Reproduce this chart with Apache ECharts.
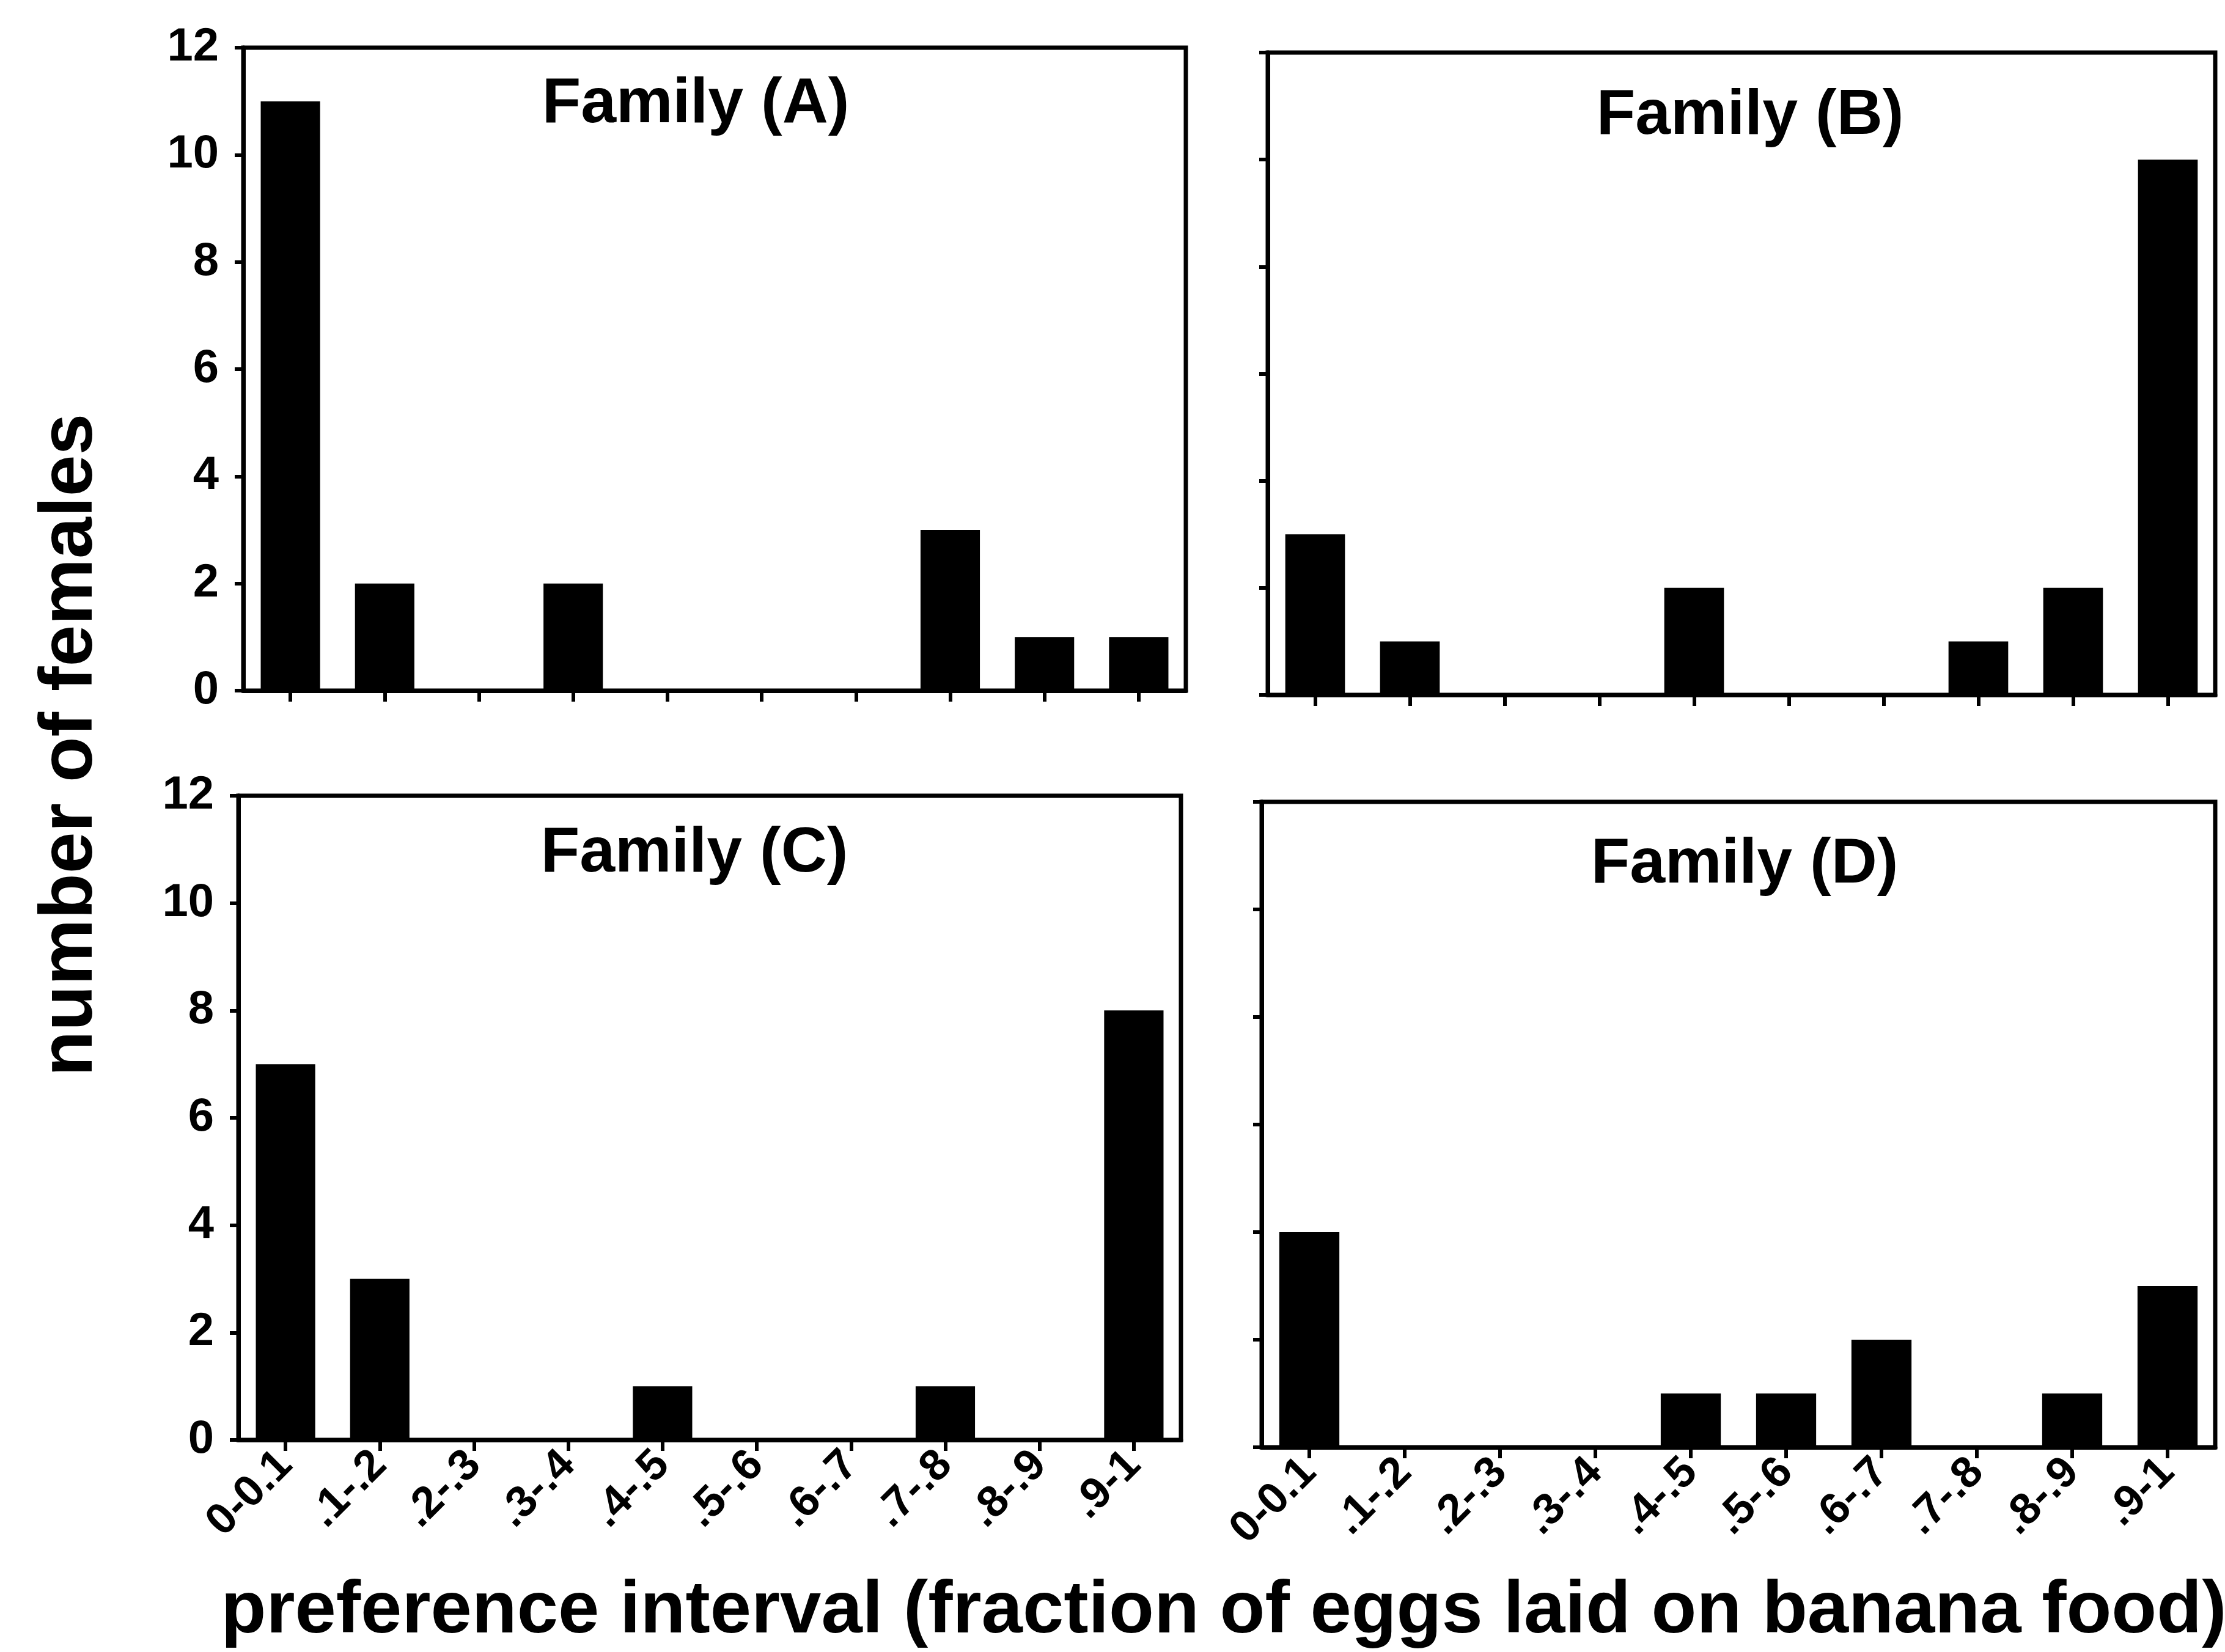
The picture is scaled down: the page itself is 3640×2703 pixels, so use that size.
<!DOCTYPE html>
<html>
<head>
<meta charset="utf-8">
<script src="https://cdn.jsdelivr.net/npm/echarts@6/dist/echarts.min.js"></script>
<style>
  html, body { margin: 0; padding: 0; background: #fff; }
  #chart { width: 3640px; height: 2703px; }
</style>
</head>
<body>
<div id="chart"></div>
<script>
// Preference intervals (fraction of eggs laid on banana food)
const categories = ['0-0.1', '.1-.2', '.2-.3', '.3-.4', '.4-.5', '.5-.6', '.6-.7', '.7-.8', '.8-.9', '.9-1'];

// Number of females per interval, one array per family
const familyA = [11, 2, 0, 2, 0, 0, 0, 3, 1, 1];
const familyB = [3, 1, 0, 0, 2, 0, 0, 1, 2, 10];
const familyC = [7, 3, 0, 0, 1, 0, 0, 1, 0, 8];
const familyD = [4, 0, 0, 0, 1, 1, 2, 0, 1, 3];

const panelNames = ['Family (A)', 'Family (B)', 'Family (C)', 'Family (D)'];
const yMax = 12;
const yStep = 2;

const FONT = '"Liberation Sans", Arial, Helvetica, sans-serif';
const INK = '#000';

const panels = [
  { data: familyA, grid: { left: 398, top: 78, width: 1542, height: 1052 }, yLabels: true, xLabels: false, title: [1133, 114] },
  { data: familyB, grid: { left: 2074, top: 86, width: 1550, height: 1051 }, yLabels: false, xLabels: false, title: [2858, 133] },
  { data: familyC, grid: { left: 390, top: 1302, width: 1542, height: 1054 }, yLabels: true, xLabels: true, title: [1131, 1340] },
  { data: familyD, grid: { left: 2064, top: 1312, width: 1560, height: 1056 }, yLabels: false, xLabels: true, title: [2849, 1358] }
];

const option = {
  backgroundColor: '#fff',
  animation: false,
  title: panels.map((p, i) => ({
    text: panelNames[i],
    left: p.title[0],
    top: p.title[1],
    textAlign: 'center',
    textStyle: { fontFamily: FONT, fontWeight: 'bold', fontSize: 104, color: INK }
  })),
  grid: panels.map(p => Object.assign({
    show: true,
    borderColor: INK,
    borderWidth: 7,
    backgroundColor: 'transparent',
    containLabel: false
  }, p.grid)),
  xAxis: panels.map((p, i) => ({
    type: 'category',
    gridIndex: i,
    data: categories,
    axisLine: { show: true, lineStyle: { color: INK, width: 7 } },
    axisTick: { show: true, alignWithLabel: true, length: 18, lineStyle: { color: INK, width: 6 } },
    axisLabel: {
      show: p.xLabels,
      rotate: 45,
      margin: 30,
      interval: 0,
      fontFamily: FONT,
      fontWeight: 'bold',
      fontSize: 72,
      color: INK
    },
    splitLine: { show: false }
  })),
  yAxis: panels.map((p, i) => ({
    type: 'value',
    gridIndex: i,
    min: 0,
    max: yMax,
    interval: yStep,
    axisLine: { show: true, lineStyle: { color: INK, width: 7 } },
    axisTick: { show: true, length: 14, lineStyle: { color: INK, width: 6 } },
    axisLabel: {
      show: p.yLabels,
      margin: 40,
      fontFamily: FONT,
      fontWeight: 'bold',
      fontSize: 76,
      color: INK
    },
    splitLine: { show: false }
  })),
  series: panels.map((p, i) => ({
    type: 'bar',
    xAxisIndex: i,
    yAxisIndex: i,
    data: p.data,
    barCategoryGap: '37%',
    itemStyle: { color: INK },
    silent: true
  })),
  graphic: [
    {
      type: 'text',
      x: 116,
      y: 1219,
      rotation: Math.PI / 2,
      style: {
        text: 'number of females',
        fontFamily: FONT,
        fontWeight: 'bold',
        fontSize: 122,
        fill: INK,
        textAlign: 'center',
        textVerticalAlign: 'middle'
      }
    },
    {
      type: 'text',
      x: 2002,
      y: 2638,
      style: {
        text: 'preference interval (fraction of eggs laid on banana food)',
        fontFamily: FONT,
        fontWeight: 'bold',
        fontSize: 121,
        fill: INK,
        textAlign: 'center',
        textVerticalAlign: 'middle'
      }
    }
  ]
};

const chart = echarts.init(document.getElementById('chart'), null, { renderer: 'canvas' });
chart.setOption(option);
</script>
</body>
</html>
